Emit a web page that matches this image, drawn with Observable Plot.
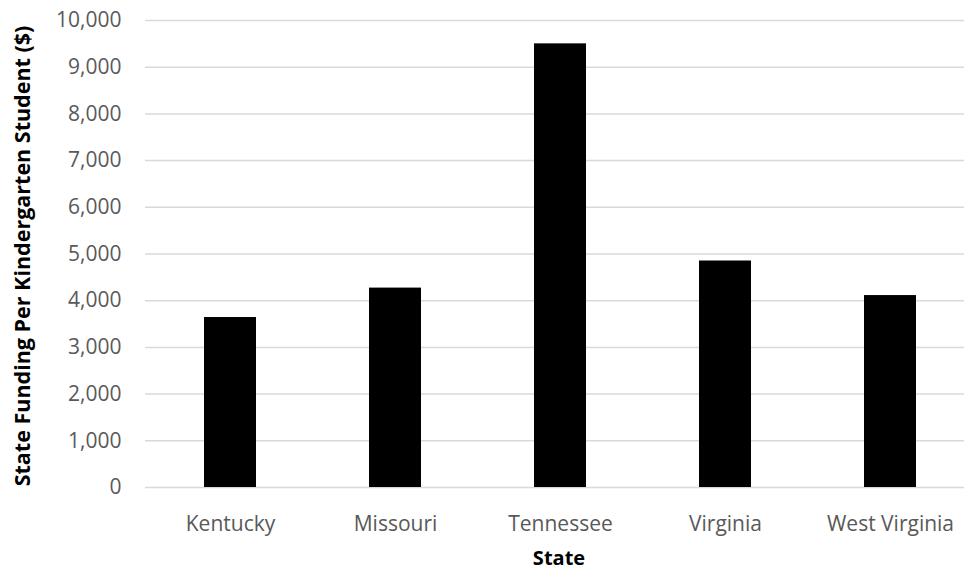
<!DOCTYPE html>
<html>
<head>
<meta charset="utf-8">
<script src="https://cdn.jsdelivr.net/npm/d3@7"></script>
<script src="https://cdn.jsdelivr.net/npm/@observablehq/plot@0.6"></script>
<style>
  html, body { margin: 0; padding: 0; background: #fff; }
  #chart svg { display: block; }
</style>
</head>
<body>
<div id="chart"></div>
<script>
const states = ["Kentucky", "Missouri", "Tennessee", "Virginia", "West Virginia"];
const funding = [3640, 4270, 9500, 4850, 4110];
const yTicks = [0, 1000, 2000, 3000, 4000, 5000, 6000, 7000, 8000, 9000, 10000];
const xTitle = "State";
const yTitle = "State Funding Per Kindergarten Student ($)";

const data = states.map((s, i) => ({state: s, value: funding[i]}));

const chart = Plot.plot({
  width: 964,
  height: 573,
  marginLeft: 145,
  marginRight: 0,
  marginTop: 20,
  marginBottom: 86,
  style: {fontFamily: "'Open Sans', sans-serif", fontSize: "21px", color: "#595959", background: "#fff"},
  x: {domain: states, range: [145.4, 974], paddingInner: 0.686, paddingOuter: 0.343, label: null},
  y: {domain: [0, 10000], label: null},
  marks: [
    Plot.ruleY(yTicks, {stroke: "#d9d9d9", strokeWidth: 1.5}),
    Plot.barY(data, {x: "state", y: "value", fill: "#000"}),
    Plot.axisY({ticks: yTicks, tickFormat: d3.format(","), tickSize: 0, tickPadding: 24, label: null, fill: "#595959", fontSize: 21}),
    Plot.axisX({tickSize: 0, tickPadding: 29, label: null, fill: "#595959", fontSize: 21}),
    Plot.text([xTitle], {frameAnchor: "bottom", dy: 77, dx: 4, text: d => d, fontWeight: "bold", fontSize: 20, fill: "#000"}),
    Plot.text([yTitle], {frameAnchor: "left", textAnchor: "middle", dx: -122, dy: 2, rotate: -90, text: d => d, fontWeight: "bold", fontSize: 21.5, fill: "#000"})
  ]
});
document.getElementById("chart").appendChild(chart);
</script>
</body>
</html>
